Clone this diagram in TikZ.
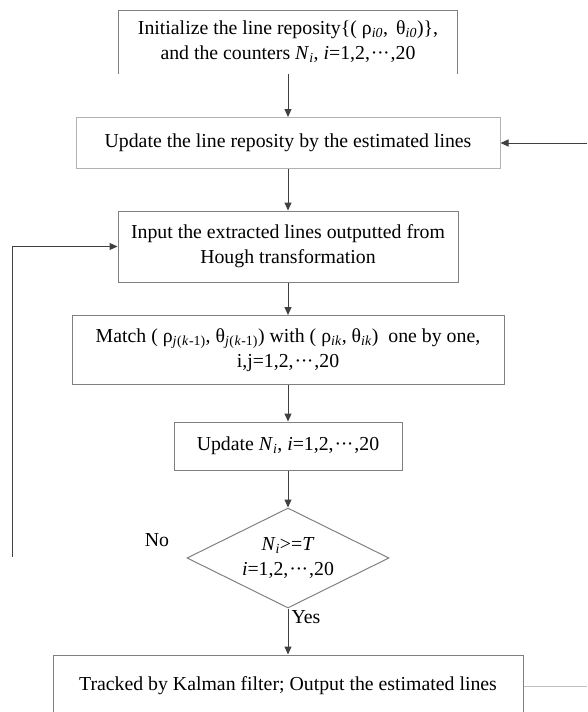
\documentclass[tikz,border=0pt]{standalone}
\usepackage{fontspec}
\setmainfont{Liberation Serif}
\usetikzlibrary{shapes.geometric}
\usetikzlibrary{arrows.meta}

\newcommand{\lsub}[1]{\textsubscript{\textit{#1\/}}}
\newcommand{\ldts}{\kern1pt·\kern-0.5pt·\kern-0.5pt·\kern1pt}

\tikzset{
    stage/.style={rectangle, draw=gray, align=center, inner sep=0pt,
        font=\fontsize{19.8}{25}\selectfont},
    check/.style={diamond, draw=gray, aspect=2, align=center, inner sep=0pt,
        font=\fontsize{19.8}{25}\selectfont},
    flow/.style={draw=black!75, -{Triangle[length=8pt, width=7pt]}},
    tag/.style={font=\fontsize{19.8}{25}\selectfont}
}

\begin{document}
\begin{tikzpicture}[x=1pt, y=-1pt, line width=1pt]
    \useasboundingbox (0, 0) rectangle (587, 712);
    \clip (0, 0) rectangle (587, 712);

    % draw stage boxes
    \node[stage, draw=none, minimum width=338pt, minimum height=62pt] (init) at (288, 42)
        {Initialize the line reposity\{( ρ\lsub{i0}, \,θ\lsub{i0})\},\\
         and the counters \textit{N}\lsub{i}, \textit{i}=1,2,\ldts,20};
    \draw[color=gray] (init.south west) -- (init.north west) -- (init.north east) -- (init.south east);

    \node[stage, draw=gray!60, minimum width=424pt, minimum height=51pt] (upd) at (288, 143)
        {Update the line reposity by the estimated lines};

    \node[stage, minimum width=340pt, minimum height=71pt] (inp) at (288, 246.5)
        {Input the extracted lines outputted from\\ Hough transformation};

    \node[stage, minimum width=432pt, minimum height=69pt] (match) at (288, 350)
        {Match ( ρ\lsub{j}\textsubscript{(}\lsub{k}\textsubscript{-1)}, θ\lsub{j}\textsubscript{(}\lsub{k}\textsubscript{-1)}) with ( ρ\lsub{ik}, θ\lsub{ik})~ one by one,\\
         i,j=1,2,\ldts,20};

    \node[stage, minimum width=228pt, minimum height=48pt] (cnt) at (288, 446)
        {Update \textit{N}\lsub{i}, \textit{i}=1,2,\ldts,20};

    % draw decision
    \node[check, minimum width=202pt, minimum height=100pt] (dia) at (288, 558)
        {\textit{N}\lsub{i}>=\textit{T}\\ \textit{i}=1,2,\ldts,20};

    \node[stage, minimum width=470pt, minimum height=62pt] (out) at (288, 686)
        {Tracked by Kalman filter; Output the estimated lines};

    % draw labels
    \node[tag] (no) at (157, 540) {No};
    \node[tag] (yes) at (306, 617) {Yes};

    % draw free ends
    \coordinate (feed) at (587, 143);
    \coordinate (back) at (12, 557);
    \coordinate (away) at (587, 686);

    % draw connectors
    \draw[flow] (init) -- (upd);
    \draw[flow] (feed) -- (upd.east);
    \draw[flow] (upd) -- (inp);
    \draw[flow] (inp) -- (match);
    \draw[flow] (match) -- (cnt);
    \draw[flow] (cnt) -- (dia);
    \draw[flow] (dia.south) -- (dia.south |- out.north);
    \draw[flow] (back) |- (inp.west);
    \draw[color=gray!50] (out.east) -- (away);

\end{tikzpicture}
\end{document}
